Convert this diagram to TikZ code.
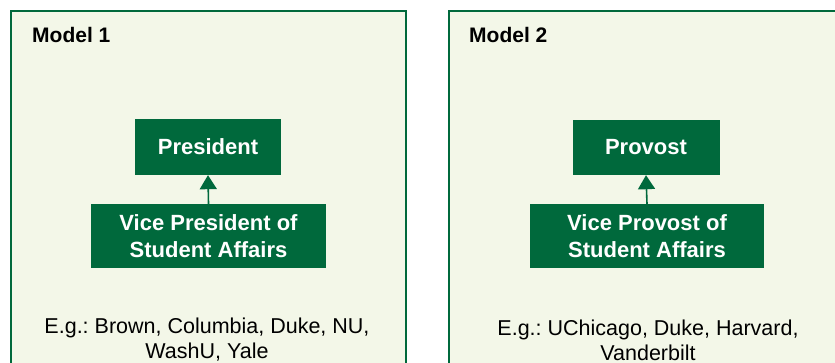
\documentclass[tikz,border=0pt]{standalone}
\usepackage{fontspec}
\setmainfont{Liberation Sans}
\usetikzlibrary{arrows.meta}

\definecolor{deepgreen}{HTML}{00693C}
\definecolor{paleback}{HTML}{F3F7E8}

\frenchspacing
\begin{document}
\begin{tikzpicture}[
  x=1pt, y=-1pt,
  panel/.style={draw=deepgreen, line width=2pt, fill=paleback},
  role/.style={fill=deepgreen, text=white, inner sep=0pt, align=center,
    font=\fontsize{22}{26.5}\selectfont\bfseries},
  heading/.style={anchor=west, inner sep=0pt, font=\fontsize{21}{25}\selectfont\bfseries},
  note/.style={align=center, inner sep=0pt, font=\fontsize{21.5}{25}\selectfont},
  reports/.style={draw=deepgreen, line width=1.6pt, -{Triangle[width=17pt,length=14pt]}}
  ]
  \useasboundingbox (0,0) rectangle (835,363);
  \clip (0,0) rectangle (835,363);
  % the two panels run past the lower and right edges
  \draw[panel] (11,11) rectangle (406,380);
  \draw[panel] (449,11) rectangle (850,380);

  \node[heading] (head1) at (32,35) {Model 1};
  \node[heading] (head2) at (469,35) {Model 2};

  \node[role, minimum width=146pt, minimum height=56pt] (pres) at (208,147) {President};
  \node[role, minimum width=235pt, minimum height=64pt] (vpsa) at (208.5,236)
      {Vice President of\\Student Affairs};
  \node[role, minimum width=147pt, minimum height=55pt] (prov) at (646,147.5) {Provost};
  \node[role, minimum width=234pt, minimum height=64pt] (vpp) at (647,236)
      {Vice Provost of\\Student Affairs};

  \draw[reports] (vpsa.north) -- (pres.south);
  \draw[reports] (vpp.north) -- (prov.south);

  \node[note] (eg1) at (207,340) {E.g.: Brown, Columbia, Duke, NU,\\WashU, Yale};
  \node[note] (eg2) at (648,340) {E.g.: UChicago, Duke, Harvard,\\Vanderbilt};
\end{tikzpicture}
\end{document}
